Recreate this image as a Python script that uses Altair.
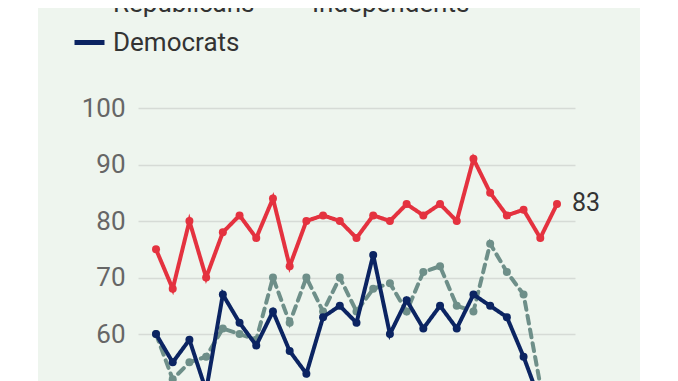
import altair as alt
import pandas as pd

parties = ["Republicans", "Independents", "Democrats"]
colors = ["#e4323f", "#6e8f89", "#0b2462"]
dashes = [[1, 0], [8, 6], [1, 0]]

republicans = [75, 68, 80, 70, 78, 81, 77, 84, 72, 80, 81, 80, 77, 81, 80, 83, 81, 83, 80, 91, 85, 81, 82, 77, 83]
independents = [60, 52, 55, 56, 61, 60, 59, 70, 62, 70, 64, 70, 64, 68, 69, 64, 71, 72, 65, 64, 76, 71, 67, 51, 49]
democrats = [60, 55, 59, 50, 67, 62, 58, 64, 57, 53, 63, 65, 62, 74, 60, 66, 61, 65, 61, 67, 65, 63, 56, 48, 45]
y_ticks = [60, 70, 80, 90, 100]

series = {"Republicans": republicans, "Independents": independents, "Democrats": democrats}
rows = []
for p in parties:
    for i, v in enumerate(series[p]):
        rows.append({"i": i, "party": p, "value": v})
df = pd.DataFrame(rows)

x = alt.X("i:Q", scale=alt.Scale(domain=[-1.078, 25.078], nice=False, zero=False), axis=None)
y = alt.Y(
    "value:Q",
    scale=alt.Scale(domain=[51.7, 100], nice=False, zero=False),
    axis=alt.Axis(
        values=y_ticks, grid=True, gridColor="#d6dbd6", gridWidth=1.5,
        domain=False, ticks=False, labelFontSize=26, labelFont="Roboto",
        labelColor="#666666", labelPadding=13, title=None,
    ),
)

legend = alt.Legend(
    orient="none", legendX=-66, legendY=-122, direction="horizontal", columns=2,
    title=None, symbolType="stroke", symbolSize=900, symbolStrokeWidth=5,
    labelFontSize=26, labelFont="Roboto", labelColor="#333333", labelOffset=6,
    columnPadding=8, rowPadding=8, padding=0, labelLimit=400,
)
color = alt.Color("party:N", scale=alt.Scale(domain=parties, range=colors), legend=legend)
dash = alt.StrokeDash("party:N", scale=alt.Scale(domain=parties, range=dashes), legend=legend)

base = alt.Chart(df)

strip = alt.Chart(pd.DataFrame({"a": [0]})).mark_rect(color="white").encode(
    x=alt.value(-130), x2=alt.value(-100), y=alt.value(-120), y2=alt.value(300)
)

layers = [strip]
for p in ["Independents", "Republicans", "Democrats"]:
    c = colors[parties.index(p)]
    sub = base.transform_filter(alt.datum.party == p)
    layers.append(
        sub.mark_line(strokeWidth=4, clip=True, strokeCap="round").encode(
            x=x, y=y, color=color, strokeDash=dash
        )
    )
    layers.append(
        sub.mark_point(filled=True, size=64, opacity=1, clip=True).encode(
            x=x, y=y, color=alt.value(c)
        )
    )

label = base.transform_filter(
    (alt.datum.party == "Republicans") & (alt.datum.i == 24)
).mark_text(align="left", baseline="middle", dx=15, dy=-1, fontSize=25,
            font="Roboto", color="#333333").encode(x=x, y=y, text="value:Q")
layers.append(label)

chart = alt.layer(*layers).properties(
    width=437, height=273,
    autosize=alt.AutoSizeParams(type="none"),
    padding={"left": 130, "top": 100, "right": 65, "bottom": 0},
    background="#eef5ee",
).configure_view(stroke=None)

chart.save("out.html", embed_options={"renderer": "svg", "actions": False})
